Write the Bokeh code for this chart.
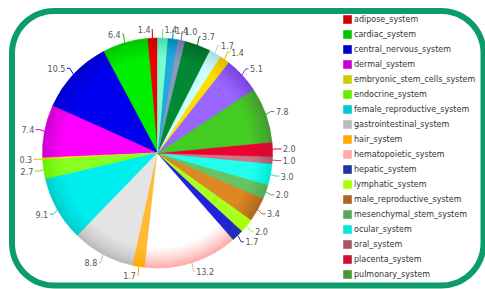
import numpy as np
from bokeh.plotting import figure
from bokeh.models import ColumnDataSource, Range1d, Legend, LegendItem
from bokeh.embed import file_html
from bokeh.resources import INLINE
from bokeh.core.properties import value

# ---------------- data ----------------
categories = [
    "adipose_system", "cardiac_system", "central_nervous_system", "dermal_system",
    "embryonic_stem_cells_system", "endocrine_system", "female_reproductive_system",
    "gastrointestinal_system", "hair_system", "hematopoietic_system", "hepatic_system",
    "lymphatic_system", "male_reproductive_system", "mesenchymal_stem_system",
    "ocular_system", "oral_system", "placenta_system", "pulmonary_system",
    "renal_system", "respiratory_system", "skeletal_muscle_system", "skeletal_system",
    "smooth_muscle_system", "urinary_system", "vascular_system",
]
values = [1.4, 6.4, 10.5, 7.4, 0.3, 2.7, 9.1, 8.8, 1.7, 13.2, 1.7, 2.0, 3.4, 2.0,
          3.0, 1.0, 2.0, 7.8, 5.1, 1.4, 1.7, 3.7, 1.0, 1.4, 1.4]
n_legend_shown = 18

# rim (legend) colours and lighter centre colours
base_colors = ["#CC0000", "#00C400", "#0000CC", "#CC00CC", "#CCCC00", "#66EE00",
               "#00CCCC", "#BBBBBB", "#FFAA00", "#FFAAAA", "#2233AA", "#AAFF00",
               "#AA6622", "#55AA55", "#00E8D8", "#AA5566", "#CC1133", "#449933",
               "#7744DD", "#DDBB00", "#AADDDD", "#006A2A", "#6677AA", "#0088BB", "#44DDAA"]
light_colors = ["#EE0000", "#00EE00", "#0000EE", "#FF00FF", "#EEEE00", "#88FF22",
                "#00EEEE", "#E4E4E4", "#FFBB33", "#FFFFFF", "#2222DD", "#AAFF22",
                "#DD8822", "#66C466", "#22FFEE", "#CC7788", "#EE0033", "#44CC22",
                "#9966FF", "#FFDD00", "#CCFFFF", "#008833", "#8899BB", "#22AADD", "#77FFCC"]

# ---------------- layout constants ----------------
W, H = 485, 289
CX, CY, R = 157.0, 136.5, 115.0


def hex2rgb(h):
    h = h.lstrip("#")
    return np.array([int(h[i:i + 2], 16) for i in (0, 2, 4)], dtype=float)


def mix(a, b, t):
    c = hex2rgb(a) * (1 - t) + hex2rgb(b) * t
    return "#%02x%02x%02x" % tuple(int(round(v)) for v in c)


vals = np.array(values, dtype=float)
frac = vals / vals.sum()
start = np.pi / 2 + 2 * np.pi * (np.cumsum(frac) - frac)
end = start + 2 * np.pi * frac
mid = (start + end) / 2

p = figure(width=W, height=H, x_range=Range1d(0, W), y_range=Range1d(0, H),
           output_backend="svg", toolbar_location=None, min_border=0,
           x_axis_location=None, y_axis_location=None,
           background_fill_color="white", border_fill_color="white",
           outline_line_color=None)
p.grid.visible = False

# rounded green frame
L_, Rt, B_, T_, rad = 11.5, 483.0, 4.0, 278.5, 42.0
xs, ys = [], []
for (cx_, cy_, a0) in [(Rt - rad, T_ - rad, 0), (L_ + rad, T_ - rad, 90),
                       (L_ + rad, B_ + rad, 180), (Rt - rad, B_ + rad, 270)]:
    a = np.radians(np.linspace(a0, a0 + 90, 20))
    xs.extend(cx_ + rad * np.cos(a))
    ys.extend(cy_ + rad * np.sin(a))
xs.append(xs[0]); ys.append(ys[0])
p.line(xs, ys, line_width=6, line_color="#0C9C6C", line_join="round")

# pie with radial shading: nested wedges, largest first
levels = 11
rim_renderer = None
for k in range(levels):
    r_k = R - 2.0 * k
    t = (k / (levels - 1)) ** 0.8
    cols = [mix(b, l, t) for b, l in zip(base_colors, light_colors)]
    src = ColumnDataSource(dict(start=start, end=end, color=cols))
    rr = p.wedge(x=CX, y=CY, radius=r_k, start_angle="start", end_angle="end",
                 direction="anticlock", fill_color="color", line_color="color",
                 line_width=0.6, source=src)
    if k == 0:
        rim_renderer = rr

# labels + connectors
ux, uy = np.cos(mid), np.sin(mid)
lx, ly = CX + 124 * ux, CY + 124 * uy
right = ux >= 0
con_x = [[CX + 115 * a, CX + 120 * a, x] for a, x in zip(ux, lx)]
con_y = [[CY + 115 * b, y, y] for b, y in zip(uy, ly)]
p.multi_line(xs=con_x, ys=con_y, line_color=base_colors, line_width=1)

lab_src = ColumnDataSource(dict(
    x=np.where(right, lx + 1.5, lx - 1.5), y=ly,
    text=["%.1f" % v for v in values],
    align=["left" if r else "right" for r in right]))
p.text(x="x", y="y", text="text", text_align="align", text_baseline="middle",
       text_font=value("DejaVu Sans"), text_font_size="8px", text_color="#555555",
       source=lab_src)

items = [LegendItem(label=categories[i], renderers=[rim_renderer], index=i)
         for i in range(n_legend_shown)]
legend = Legend(items=items, location=(342, 10), orientation="vertical",
                glyph_width=10, glyph_height=10, label_height=10, label_width=10,
                label_standoff=2, spacing=5, padding=0, margin=0,
                border_line_color=None, background_fill_alpha=0,
                label_text_font="DejaVu Sans", label_text_font_size="8px",
                label_text_color="#333333")
p.add_layout(legend)

open("out.html", "w").write(file_html(p, INLINE))
